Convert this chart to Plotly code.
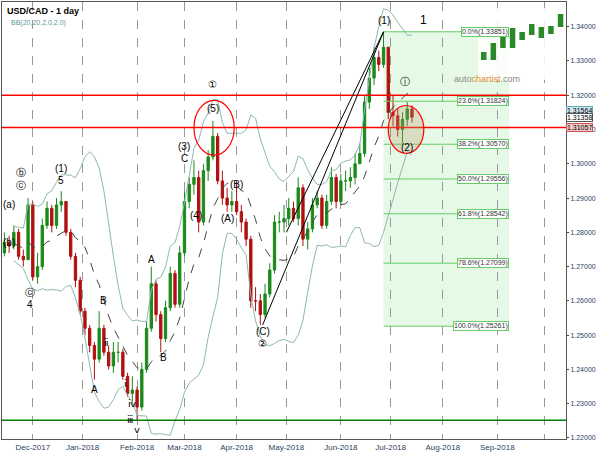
import plotly.graph_objects as go
import pandas as pd

dates = list(pd.bdate_range("2017-11-13", periods=88, freq="2B").strftime("%Y-%m-%d"))
close = [1.2740,1.2770,1.2760,1.2800,1.2730,1.2720,1.2880,1.2670,1.2700,1.2820,
         1.2870,1.2820,1.2880,1.2890,1.2800,1.2730,1.2660,1.2570,1.2520,1.2470,
         1.2430,1.2520,1.2450,1.2410,1.2450,1.2450,1.2380,1.2330,1.2340,1.2290,
         1.2400,1.2520,1.2650,1.2560,1.2490,1.2580,1.2680,1.2590,1.2740,1.2890,
         1.2940,1.2960,1.2830,1.2980,1.3020,1.3080,1.2950,1.2900,1.2880,1.2890,
         1.2860,1.2830,1.2780,1.2600,1.2600,1.2560,1.2620,1.2690,1.2830,1.2830,
         1.2840,1.2870,1.2840,1.2930,1.2780,1.2810,1.2880,1.2900,1.2820,1.2890,
         1.2960,1.2890,1.2950,1.2950,1.2960,1.3000,1.3030,1.3180,1.3250,1.3310,
         1.3290,1.3340,1.3150,1.3140,1.3100,1.3130,1.3160,1.3136]
high = [1.2770,1.2800,1.2790,1.2820,1.2810,1.2750,1.2900,1.2890,1.2740,1.2840,
        1.2890,1.2880,1.2900,1.2920,1.2890,1.2810,1.2740,1.2670,1.2580,1.2530,
        1.2480,1.2570,1.2530,1.2470,1.2480,1.2480,1.2460,1.2390,1.2380,1.2350,
        1.2420,1.2540,1.2700,1.2660,1.2570,1.2600,1.2700,1.2690,1.2760,1.2920,
        1.2960,1.3010,1.2980,1.3000,1.3040,1.3125,1.3090,1.2980,1.2930,1.2920,
        1.2950,1.2880,1.2840,1.2790,1.2640,1.2620,1.2650,1.2710,1.2850,1.2860,
        1.2880,1.2900,1.2890,1.2960,1.2940,1.2830,1.2900,1.2920,1.2910,1.2910,
        1.2990,1.2970,1.2970,1.2980,1.2990,1.3030,1.3060,1.3200,1.3280,1.3340,
        1.3330,1.3385,1.3340,1.3200,1.3160,1.3150,1.3180,1.3170]
low = [1.2710,1.2730,1.2740,1.2750,1.2720,1.2700,1.2720,1.2660,1.2650,1.2690,
       1.2810,1.2800,1.2810,1.2860,1.2790,1.2720,1.2640,1.2560,1.2500,1.2450,
       1.2370,1.2420,1.2440,1.2400,1.2390,1.2420,1.2370,1.2320,1.2300,1.2250,
       1.2280,1.2390,1.2510,1.2540,1.2450,1.2480,1.2570,1.2580,1.2580,1.2730,
       1.2870,1.2910,1.2800,1.2820,1.2950,1.3010,1.2940,1.2880,1.2860,1.2860,
       1.2850,1.2800,1.2760,1.2580,1.2570,1.2530,1.2550,1.2610,1.2680,1.2800,
       1.2800,1.2820,1.2830,1.2820,1.2760,1.2750,1.2800,1.2870,1.2810,1.2810,
       1.2880,1.2870,1.2880,1.2920,1.2930,1.2940,1.3000,1.3020,1.3160,1.3230,
       1.3270,1.3280,1.3130,1.3110,1.3080,1.3060,1.3110,1.3120]
opn = [close[0] - 0.002] + close[:-1]

fib_pct = ["0.0%", "23.6%", "38.2%", "50.0%", "61.8%", "78.6%", "100.0%"]
fib_val = [1.33851, 1.31824, 1.30570, 1.29556, 1.28542, 1.27099, 1.25261]
red_levels = [1.3200, 1.31057]
green_level = 1.2252
ytick_vals = [1.22,1.23,1.24,1.25,1.26,1.27,1.28,1.29,1.30,1.31,1.32,1.33,1.34]
month_ticks = ["2017-12-01","2018-01-01","2018-02-01","2018-03-01","2018-04-02","2018-05-01",
               "2018-06-01","2018-07-02","2018-08-01","2018-09-03","2018-10-01"]
month_labels = ["Dec-2017","Jan-2018","Feb-2018","Mar-2018","Apr-2018","May-2018",
                "Jun-2018","Jul-2018","Aug-2018","Sep-2018",""]
waves = [  # (date, price, text)
    ("2017-11-17",1.2880,"(a)"),("2017-11-17",1.2770,"(b)"),("2017-11-24",1.2975,"ⓑ"),
    ("2017-11-24",1.2938,"ⓒ"),("2017-11-30",1.2625,"ⓒ"),("2017-11-30",1.2590,"4"),
    ("2017-12-19",1.2985,"(1)"),("2017-12-19",1.2950,"5"),
    ("2018-01-08",1.2340,"A"),("2018-01-12",1.2600,"B"),("2018-01-15",1.2480,"ⅱ"),
    ("2018-01-25",1.2360,"ⅰ"),("2018-01-30",1.2300,"ⅳ"),("2018-01-29",1.2255,"ⅲ"),
    ("2018-02-01",1.2225,"ⅴ"),("2018-02-01",1.2195,"C"),
    ("2018-02-09",1.2720,"A"),("2018-02-16",1.2435,"B"),
    ("2018-03-01",1.3050,"(3)"),("2018-03-01",1.3015,"C"),("2018-03-08",1.2850,"(4)"),
    ("2018-03-19",1.3230,"①"),("2018-03-19",1.3160,"(5)"),
    ("2018-03-27",1.2840,"(A)"),("2018-04-02",1.2940,"(B)"),
    ("2018-04-17",1.2510,"(C)"),("2018-04-17",1.2475,"②"),
    ("2018-06-27",1.3418,"(1)"),("2018-07-11",1.3048,"(2)"),("2018-07-10",1.3240,"ⓘ"),
    ("2018-07-20",1.3420,"1"),
]
logo_bottom_px = [60, 60, 48, 48, 40, 35, 38, 34, 27]
logo_top_px = [52, 43, 37, 28, 32, 24, 27, 26, 14]

T, B, L, R = 2, 16, 2, 34
PH, PW = 455 - T - B, 600 - L - R
def px(x): return (x - L) / PW
def py(y): return (455 - B - y) / PH

df = pd.DataFrame({"c": close})
mid = df["c"].rolling(10, min_periods=4).mean()
sd = df["c"].rolling(10, min_periods=4).std()
up, dn = mid + 2 * sd, mid - 2 * sd

fig = go.Figure()
x0, x1 = "2017-11-14", "2018-10-12"
fig.add_shape(type="rect", xref="x", yref="y", x0="2018-06-27", x1="2018-09-10",
              y0=fib_val[-1], y1=fib_val[0], fillcolor="rgba(200,240,200,0.45)", line_width=0, layer="below")
for p, v in zip(fib_pct, fib_val):
    fig.add_shape(type="line", x0="2018-06-27", x1="2018-09-07", y0=v, y1=v, line=dict(color="#66cc66", width=1))
    fig.add_annotation(x="2018-09-10", y=v, text=f"{p}({v:.5f})", showarrow=False, xanchor="right",
                       font=dict(size=7, color="#333"), bgcolor="white", bordercolor="#66cc66", borderwidth=1, borderpad=0)
for v in red_levels:
    fig.add_shape(type="line", xref="paper", x0=0, x1=1, y0=v, y1=v, line=dict(color="red", width=1.5))
fig.add_shape(type="line", xref="paper", x0=0, x1=1, y0=green_level, y1=green_level, line=dict(color="green", width=1.5))
fig.add_shape(type="circle", x0="2018-03-07", x1="2018-03-30", y0=1.3025, y1=1.3185, line=dict(color="red", width=1.2))
fig.add_shape(type="circle", x0="2018-06-29", x1="2018-07-20", y0=1.3030, y1=1.3170,
              fillcolor="rgba(190,160,110,0.3)", line=dict(color="red", width=1.2))
fig.add_shape(type="line", x0="2018-04-17", x1="2018-06-27", y0=1.2530, y1=1.3385, line=dict(color="black", width=1))
fig.add_shape(type="line", x0="2018-05-01", x1="2018-06-27", y0=1.2800, y1=1.3385, line=dict(color="black", width=1))

fig.add_trace(go.Scatter(x=dates, y=up, mode="lines", line=dict(color="#8fb8b0", width=1), hoverinfo="skip"))
fig.add_trace(go.Scatter(x=dates, y=dn, mode="lines", line=dict(color="#8fb8b0", width=1), hoverinfo="skip"))
fig.add_trace(go.Scatter(x=dates, y=mid, mode="lines", line=dict(color="#444", width=1, dash="dash"), hoverinfo="skip"))
fig.add_trace(go.Candlestick(x=dates, open=opn, high=high, low=low, close=close,
                             increasing=dict(line=dict(color="#1a8a1a", width=1), fillcolor="#1a8a1a"),
                             decreasing=dict(line=dict(color="#b01010", width=1), fillcolor="#b01010"),
                             whiskerwidth=0))
for d, p, t in waves:
    fig.add_annotation(x=d, y=p, text=t, showarrow=False, font=dict(size=10 if t != "1" else 12, color="black"))

fig.add_annotation(xref="paper", yref="paper", x=0.005, y=0.995, xanchor="left", yanchor="top",
                   text="<b>USD/CAD - 1 day</b>", showarrow=False, font=dict(size=9, color="black"))
fig.add_annotation(xref="paper", yref="paper", x=0.012, y=0.965, xanchor="left", yanchor="top",
                   text="BB(20,20,2.0,2.0)", showarrow=False, font=dict(size=7, color="#5a9a9a"))
fig.add_shape(type="rect", xref="paper", yref="paper", x0=px(478), x1=px(566), y0=py(80), y1=py(8),
              fillcolor="rgba(255,255,255,0.85)", line_width=0)
for i, (b, t) in enumerate(zip(logo_bottom_px, logo_top_px)):
    bx = 481 + i * 9.6
    fig.add_shape(type="rect", xref="paper", yref="paper", x0=px(bx), x1=px(bx + 5.5), y0=py(b), y1=py(t),
                  fillcolor="#2a8a2a", line_width=0)
fig.add_annotation(xref="paper", yref="paper", x=px(522), y=py(72),
                   text="<span style='color:#888'>auto</span><span style='color:#e08a2a'>chartist</span><span style='color:#888'>.com</span>",
                   showarrow=False, font=dict(size=9))

for v, bg, bc in [(1.31564, "#cfe6f5", "#6aa"), (1.31358, "white", "#555"), (1.31057, "#f5c8c8", "#c55")]:
    fig.add_annotation(xref="paper", x=1.0, y=v, xanchor="left", text=f"{v:.5f}", showarrow=False,
                       font=dict(size=7, color="black"), bgcolor=bg, bordercolor=bc, borderwidth=1, borderpad=0)

fig.update_layout(width=600, height=455, margin=dict(l=L, r=R, t=T, b=B), showlegend=False,
                  plot_bgcolor="white", paper_bgcolor="white", font=dict(family="Liberation Sans", size=8))
fig.update_xaxes(range=[x0, x1], rangeslider_visible=False, rangebreaks=[dict(bounds=["sat", "mon"])],
                 tickvals=month_ticks, ticktext=month_labels, showgrid=True, gridcolor="#999",
                 griddash="dash", gridwidth=1, showline=True, linecolor="#555", mirror=True, ticks="",
                 ticklabelstandoff=0, tickfont=dict(size=8))
fig.update_yaxes(side="right", range=[1.2197, 1.3472], tickvals=ytick_vals, tickformat=".5f", showgrid=False,
                 showline=True, linecolor="#555", mirror=True, ticks="outside", ticklen=2, ticklabelstandoff=0,
                 tickfont=dict(size=7))
fig.write_html("out.html", config={"displayModeBar": False})
with open("out.html", encoding="utf-8") as f:
    html = f.read()
html = html.replace("<body>", '<body style="margin:0;overflow:hidden">', 1)
with open("out.html", "w", encoding="utf-8") as f:
    f.write(html)
